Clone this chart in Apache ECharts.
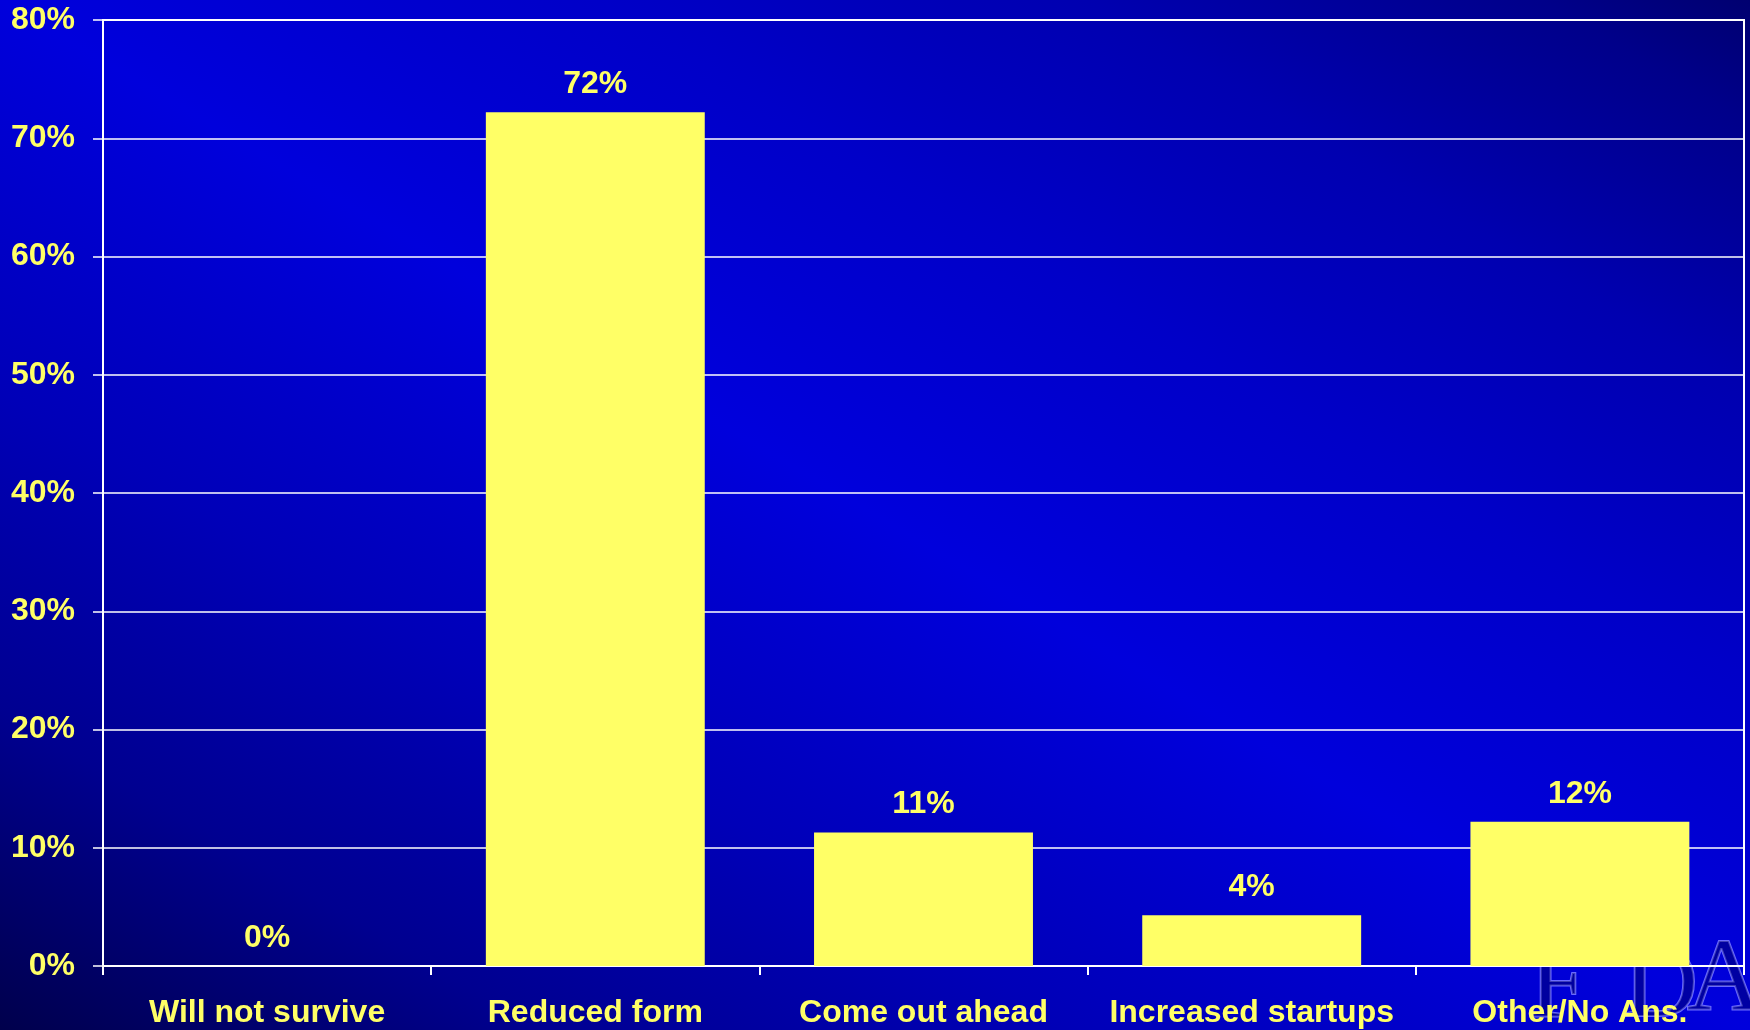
<!DOCTYPE html>
<html>
<head>
<meta charset="utf-8">
<script src="https://cdn.jsdelivr.net/npm/echarts@6/dist/echarts.min.js"></script>
<style>
html,body{margin:0;padding:0;width:1750px;height:1030px;overflow:hidden;}
#chart{width:1750px;height:1030px;}
</style>
</head>
<body>
<div id="chart"></div>
<script>
var categories = ['Will not survive', 'Reduced form', 'Come out ahead', 'Increased startups', 'Other/No Ans.'];
var values = [0, 72.2, 11.3, 4.3, 12.2];
var yTicks = { min: 0, max: 80, interval: 10 };

var YELLOW = '#ffff66';
var FONT = '"Liberation Sans", Arial, sans-serif';

var chart = echarts.init(document.getElementById('chart'));
chart.setOption({
  animation: false,
  backgroundColor: {
    type: 'linear', global: true,
    x: 424.7, y: 1280, x2: 1325.3, y2: -250,
    colorStops: [
      { offset: 0, color: '#00004c' },
      { offset: 0.155, color: '#000090' },
      { offset: 0.31, color: '#0000b8' },
      { offset: 0.5, color: '#0000dc' },
      { offset: 0.67, color: '#0000c8' },
      { offset: 0.81, color: '#0000b0' },
      { offset: 0.94, color: '#00008a' },
      { offset: 1, color: '#000070' }
    ]
  },
  grid: { left: 103, right: 6, top: 20, bottom: 64, show: true, borderColor: '#ffffff', borderWidth: 2, backgroundColor: 'transparent' },
  graphic: [
    { type: 'text', left: 1528, top: 936, z: 0, silent: true,
      style: { text: 'F', font: '104px "Liberation Serif", serif', fill: 'rgba(0,0,80,0.4)', stroke: '#6a6aff', lineWidth: 2 } },
    { type: 'text', left: 1622, top: 936, z: 0, silent: true,
      style: { text: 'D', font: '104px "Liberation Serif", serif', fill: 'rgba(0,0,80,0.4)', stroke: '#6a6aff', lineWidth: 2 } },
    { type: 'text', left: 1686, top: 930, z: 0, silent: true,
      style: { text: 'A', font: '104px "Liberation Serif", serif', fill: 'rgba(0,0,80,0.4)', stroke: '#6a6aff', lineWidth: 2 } }
  ],
  xAxis: {
    type: 'category',
    data: categories,
    axisLine: { show: true, lineStyle: { color: '#ffffff', width: 2 } },
    axisTick: { show: true, length: 9, lineStyle: { color: '#ffffff', width: 2 } },
    axisLabel: { color: YELLOW, fontSize: 32, fontWeight: 'bold', fontFamily: FONT, margin: 31, interval: 0 },
    splitLine: { show: false }
  },
  yAxis: {
    type: 'value',
    min: yTicks.min, max: yTicks.max, interval: yTicks.interval,
    axisLine: { show: true, lineStyle: { color: '#ffffff', width: 2 } },
    axisTick: { show: true, length: 10, lineStyle: { color: '#ffffff', width: 1.5 } },
    axisLabel: { color: YELLOW, fontSize: 32, fontWeight: 'bold', fontFamily: FONT, margin: 28, formatter: '{value}%' },
    splitLine: { show: true, lineStyle: { color: '#ffffff', width: 1.5 } }
  },
  series: [{
    type: 'bar',
    data: values,
    z: 3,
    barCategoryGap: '33.3%',
    itemStyle: { color: YELLOW },
    label: {
      show: true, position: 'top', distance: 12,
      color: YELLOW, fontSize: 32, fontWeight: 'bold', fontFamily: FONT,
      formatter: function (p) { return Math.round(p.value) + '%'; }
    }
  }]
});
</script>
</body>
</html>
